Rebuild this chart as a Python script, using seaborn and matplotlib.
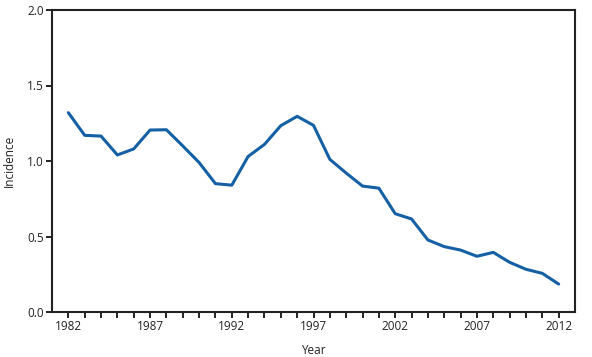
import matplotlib
matplotlib.use("Agg")
import matplotlib.pyplot as plt
import seaborn as sns
import pandas as pd

years = list(range(1982, 2013))
incidence = [1.32, 1.17, 1.165, 1.04, 1.08, 1.205, 1.207, 1.10, 0.99, 0.85,
             0.84, 1.03, 1.11, 1.234, 1.296, 1.236, 1.011, 0.92, 0.834, 0.82,
             0.651, 0.616, 0.477, 0.433, 0.41, 0.369, 0.395, 0.329, 0.283, 0.256,
             0.185]
x_ticks = [1982, 1987, 1992, 1997, 2002, 2007, 2012]
y_ticks = [0.0, 0.5, 1.0, 1.5, 2.0]

df = pd.DataFrame({"Year": years, "Incidence": incidence})

sns.set_style("white")
plt.rcParams['font.family'] = ['Open Sans', 'DejaVu Sans']

fig = plt.figure(figsize=(5.92, 3.57), dpi=100)
ax = fig.add_axes([52/592, 1 - 312/357, (575-52)/592, (312-10)/357])
sns.lineplot(data=df, x="Year", y="Incidence", ax=ax, color="#1560a4", linewidth=2.2)

ax.set_xlim(1981.0, 2013.0)
ax.set_ylim(0, 2.0)
ax.set_xticks(years, minor=True)
ax.set_xticks(x_ticks)
ax.set_xticklabels([str(v) for v in x_ticks], fontsize=8.5, color="#222222")
ax.set_yticks(y_ticks)
ax.set_yticklabels([f"{v:.1f}" for v in y_ticks], fontsize=8.5, color="#222222")
ax.tick_params(axis="both", which="both", direction="out", length=4, width=1.4, color="#222222", pad=2)
ax.tick_params(axis="x", which="both", bottom=True)
ax.tick_params(axis="y", left=True)
for s in ax.spines.values():
    s.set_visible(True)
    s.set_linewidth(1.5)
    s.set_color("#222222")
ax.set_xlabel("Year", fontsize=8.5, color="#222222", labelpad=8)
ax.set_ylabel("Incidence", fontsize=8.5, color="#222222", labelpad=8)

fig.savefig("out.png", dpi=100)
